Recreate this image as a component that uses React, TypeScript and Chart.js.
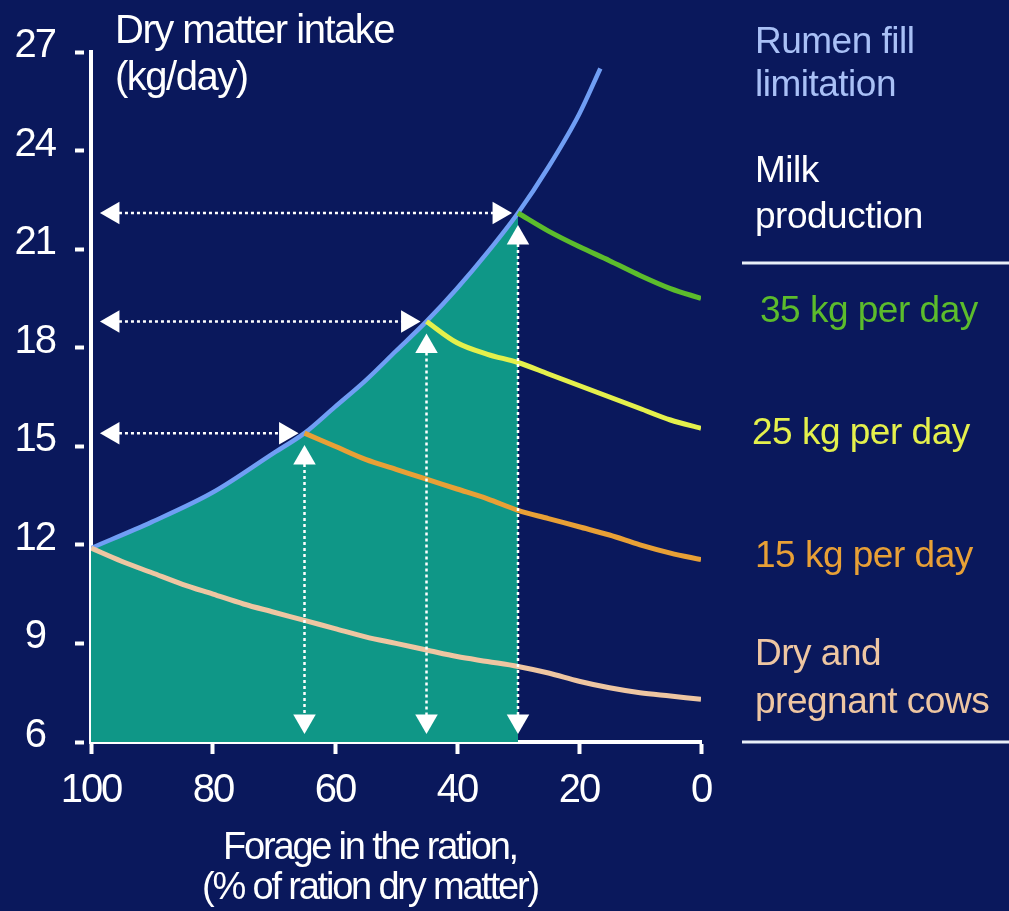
import React, { useEffect, useRef } from 'react';
import { Chart, registerables } from 'chart.js';

Chart.register(...registerables);

// ---- Data ----
const rumenForage = [100, 90, 80, 70, 65, 60, 55, 50, 45, 40, 35, 30, 25, 20, 16.5];
const rumenIntake = [11.9, 12.7, 13.6, 14.8, 15.4, 16.2, 17.0, 17.9, 18.8, 19.8, 20.9, 22.1, 23.5, 25.1, 26.5];

const milk35Forage = [30, 25, 20, 15, 10, 5, 0];
const milk35Intake = [22.1, 21.55, 21.08, 20.65, 20.2, 19.8, 19.5];

const milk25Forage = [45, 40, 35, 30, 25, 20, 15, 10, 5, 0];
const milk25Intake = [18.8, 18.15, 17.8, 17.55, 17.2, 16.85, 16.5, 16.15, 15.8, 15.55];

const milk15Forage = [65, 60, 55, 50, 45, 40, 35, 30, 25, 20, 15, 10, 5, 0];
const milk15Intake = [15.4, 15.0, 14.6, 14.3, 14.0, 13.7, 13.4, 13.05, 12.8, 12.55, 12.3, 12.0, 11.75, 11.55];

const dryForage = [100, 95, 90, 85, 80, 75, 70, 65, 60, 55, 50, 45, 40, 35, 30, 25, 20, 15, 10, 5, 0];
const dryIntake = [11.9, 11.5, 11.15, 10.8, 10.5, 10.2, 9.95, 9.7, 9.45, 9.2, 9.0, 8.8, 8.6, 8.45, 8.3, 8.1, 7.85, 7.65, 7.5, 7.4, 7.3];

// where the milk-production lines meet the rumen fill limit
const limitForage = [65, 45, 30];
const limitIntake = [15.4, 18.8, 22.1];
const fillEndForage = 30;

const yTicks = [6, 9, 12, 15, 18, 21, 24, 27];
const xTicks = [100, 80, 60, 40, 20, 0];

const titleLines = ['Dry matter intake', '(kg/day)'];
const xTitleLines = ['Forage in the ration,', '(% of ration dry matter)'];

// ---- Styles ----
const BG = '#0a185c';
const TEAL = '#0f9787';
const BLUE = '#709ef4';
const GREEN = '#5cbc2c';
const YELLOW = '#e4f04c';
const ORANGE = '#e8a036';
const PEACH = '#eec6a2';
const FONT = '"Liberation Sans", Arial, sans-serif';

const pts = (xs: number[], ys: number[]) => xs.map((x, i) => ({ x, y: ys[i] }));

const lineDs = (label: string, data: { x: number; y: number }[], color: string, w = 5) => ({
  label,
  data,
  borderColor: color,
  borderWidth: w,
  pointRadius: 0,
  fill: false,
  cubicInterpolationMode: 'monotone' as const,
  order: 5,
});

const arrowDs = (data: { x: number; y: number }[], rotations: number[]) => ({
  label: 'arrow',
  data,
  borderColor: '#ffffff',
  borderWidth: 2.5,
  borderDash: [3, 3],
  pointStyle: 'triangle',
  pointRadius: 13,
  pointRotation: rotations,
  pointBackgroundColor: '#ffffff',
  pointBorderColor: '#ffffff',
  pointBorderWidth: 0,
  fill: false,
  order: 1,
});

// condensed look for axis tick labels
const spacingPlugin = {
  id: 'tightText',
  beforeDraw(chart: any) {
    (chart.ctx as any).letterSpacing = '-2px';
  },
  afterDraw(chart: any) {
    (chart.ctx as any).letterSpacing = '0px';
  },
};

const textPlugin = {
  id: 'annotText',
  afterDraw(chart: any) {
    const ctx = chart.ctx as CanvasRenderingContext2D & { letterSpacing?: string };
    ctx.save();
    ctx.textBaseline = 'middle';
    ctx.textAlign = 'left';
    const put = (t: string, x: number, y: number, c: string) => {
      ctx.fillStyle = c;
      ctx.fillText(t, x, y);
    };
    ctx.font = `40px ${FONT}`;
    ctx.letterSpacing = '-1.5px';
    put(titleLines[0], 115, 32, '#ffffff');
    put(titleLines[1], 115, 79, '#ffffff');

    ctx.font = `37px ${FONT}`;
    ctx.letterSpacing = '-0.5px';
    put('Rumen fill', 755, 43, '#a9c0f6');
    put('limitation', 755, 86, '#a9c0f6');
    put('Milk', 755, 172, '#ffffff');
    put('production', 755, 218, '#ffffff');
    put('35 kg per day', 760, 312, GREEN);
    put('25 kg per day', 752, 434, YELLOW);
    put('15 kg per day', 755, 557, ORANGE);
    put('Dry and', 755, 655, PEACH);
    put('pregnant cows', 755, 703, PEACH);

    ctx.strokeStyle = '#e8eef8';
    ctx.lineWidth = 3;
    ctx.beginPath();
    ctx.moveTo(742, 263);
    ctx.lineTo(1009, 263);
    ctx.moveTo(742, 742);
    ctx.lineTo(1009, 742);
    ctx.stroke();

    ctx.textAlign = 'center';
    ctx.font = `38px ${FONT}`;
    ctx.letterSpacing = '-2.2px';
    put(xTitleLines[0], 370, 849, '#ffffff');
    put(xTitleLines[1], 370, 889, '#ffffff');
    ctx.restore();
  },
};

export default function App() {
  const canvasRef = useRef<HTMLCanvasElement | null>(null);

  useEffect(() => {
    document.body.style.margin = '0';
    document.body.style.background = BG;
    const canvas = canvasRef.current;
    if (!canvas) return;

    const fillIdx = rumenForage.filter((x) => x >= fillEndForage).length;
    const fillData = pts(rumenForage.slice(0, fillIdx), rumenIntake.slice(0, fillIdx));

    const arrows: any[] = [];
    limitForage.forEach((f, i) => {
      const y = limitIntake[i];
      // horizontal: to the intake axis
      arrows.push(arrowDs([{ x: 96.4, y }, { x: f + 3.1, y }], [270, 90]));
      // vertical: down to the forage axis
      arrows.push(arrowDs([{ x: f, y: y - 0.76 }, { x: f, y: 6.64 }], [0, 180]));
    });

    const chart = new Chart(canvas, {
      type: 'line',
      data: {
        datasets: [
          {
            label: 'fill',
            data: fillData,
            borderWidth: 0,
            borderColor: 'rgba(0,0,0,0)',
            backgroundColor: TEAL,
            pointRadius: 0,
            fill: 'start',
            cubicInterpolationMode: 'monotone',
            order: 10,
          } as any,
          lineDs('Dry and pregnant cows', pts(dryForage, dryIntake), PEACH),
          lineDs('15 kg per day', pts(milk15Forage, milk15Intake), ORANGE),
          lineDs('25 kg per day', pts(milk25Forage, milk25Intake), YELLOW),
          lineDs('35 kg per day', pts(milk35Forage, milk35Intake), GREEN),
          lineDs('Rumen fill limitation', pts(rumenForage, rumenIntake), BLUE, 4.5),
          ...arrows,
        ],
      },
      options: {
        responsive: false,
        animation: false,
        devicePixelRatio: 1,
        layout: { padding: { top: 52, right: 308, left: 0, bottom: 0 } },
        plugins: { legend: { display: false }, tooltip: { enabled: false } },
        events: [],
        scales: {
          x: {
            type: 'linear',
            reverse: true,
            min: 0,
            max: 100,
            afterBuildTicks: (scale: any) => {
              scale.ticks = xTicks.map((v) => ({ value: v }));
            },
            afterFit: (scale: any) => {
              scale.height = 169;
            },
            ticks: {
              color: '#ffffff',
              font: { family: FONT, size: 40 },
              padding: 13,
              maxRotation: 0,
              autoSkip: false,
            },
            grid: {
              display: true,
              drawOnChartArea: false,
              drawTicks: true,
              tickLength: 12,
              tickWidth: 4,
              tickColor: '#ffffff',
            },
            border: { display: true, color: '#ffffff', width: 4 },
          },
          y: {
            type: 'linear',
            min: 6,
            max: 27,
            afterBuildTicks: (scale: any) => {
              scale.ticks = yTicks.map((v) => ({ value: v }));
            },
            afterFit: (scale: any) => {
              scale.width = 91;
            },
            ticks: {
              color: '#ffffff',
              font: { family: FONT, size: 40 },
              padding: 18,
              labelOffset: -6,
              crossAlign: 'center',
              autoSkip: false,
            },
            grid: {
              display: true,
              drawOnChartArea: false,
              drawTicks: true,
              tickLength: 16,
              tickWidth: 4,
              tickColor: '#ffffff',
              tickBorderDash: [9, 20],
            },
            border: { display: true, color: '#ffffff', width: 4 },
          },
        },
      },
      plugins: [spacingPlugin, textPlugin],
    } as any);

    return () => chart.destroy();
  }, []);

  return (
    <div style={{ position: 'absolute', left: 0, top: 0, width: 1009, height: 911, background: BG }}>
      <canvas ref={canvasRef} width={1009} height={911} style={{ width: 1009, height: 911, display: 'block' }} />
    </div>
  );
}
